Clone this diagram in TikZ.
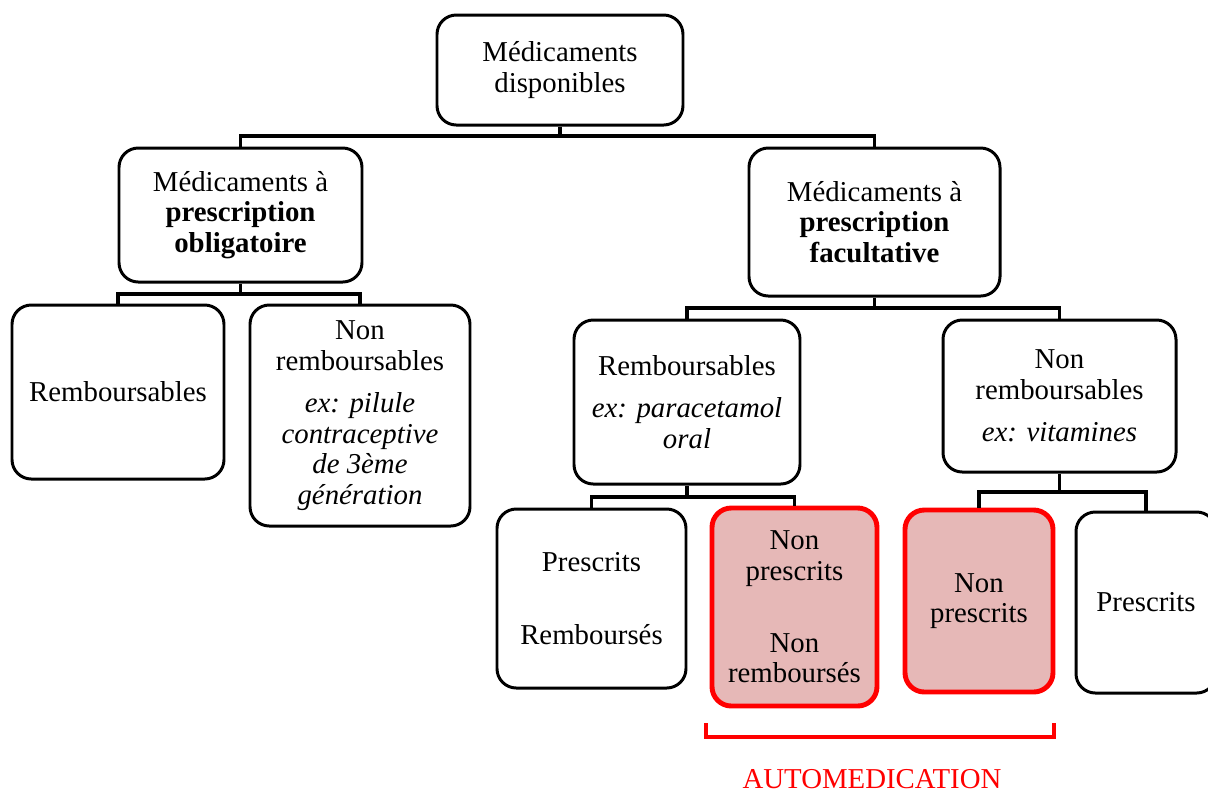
\documentclass[tikz,border=0pt]{standalone}
\usepackage{fontspec}
\setmainfont{Liberation Serif}
\definecolor{autofill}{HTML}{E6B8B7}
\definecolor{autored}{HTML}{FF0000}
\tikzset{
  box/.style={draw, line width=1.7pt, rounded corners=11pt, align=center,
    inner sep=0pt, font=\fontsize{16.4}{17.4}\selectfont},
  autobox/.style={box, draw=autored, fill=autofill, line width=2.8pt},
  sz/.style 2 args={minimum width=#1*0.02cm, minimum height=#2*0.02cm},
  link/.style={line width=2pt},
}

\begin{document}
\begin{tikzpicture}[x=0.02cm, y=-0.02cm]
  \useasboundingbox (0,0) rectangle (1208,796);
  \clip (0,0) rectangle (1208,796);

  \node[box, sz={246}{110}] (top) at (560,70) {Médicaments\\disponibles};

  \node[box, sz={243}{134}] (oblig) at (240.5,215)
    {Médicaments à\\\textbf{prescription}\\\textbf{obligatoire}};
  \node[box, sz={251}{148}] (facult) at (874.5,222)
    {Médicaments à\\\textbf{prescription}\\\textbf{facultative}};

  \node[box, sz={212}{174}] (oblR) at (118,392) {Remboursables};
  \node[box, sz={220}{221}] (oblN) at (360,415.5)
    {Non\\remboursables\\[6.8pt]\textit{ex: pilule}\\\textit{contraceptive}\\\textit{de 3ème}\\\textit{génération}};

  \node[box, sz={226}{164}] (facR) at (687,402)
    {Remboursables\\[6.8pt]\textit{ex: paracetamol}\\\textit{oral}};
  \node[box, sz={233}{152}] (facN) at (1059.5,396)
    {Non\\remboursables\\[6.8pt]\textit{ex: vitamines}};

  \node[box, sz={189}{179}] (presR) at (591.5,598.5) {Prescrits\\[24pt]Remboursés};
  \node[autobox, sz={165}{198}] (npnr) at (794.5,607)
    {Non\\prescrits\\[23.5pt]Non\\remboursés};
  \node[autobox, sz={148}{182}] (np) at (979,601) {Non\\prescrits};
  \node[box, sz={140}{181}] (pres) at (1146,602.5) {Prescrits};

  \draw[link] (top.south) -- (top.south |- 0,136) coordinate (b0);
  \draw[link] (oblig.north) |- (b0) -| (facult.north);

  \draw[link] (oblig.south) -- (oblig.south |- 0,294) coordinate (b1);
  \draw[link] (oblR.north) |- (b1) -| (oblN.north);

  \draw[link] (facult.south) -- (facult.south |- 0,308) coordinate (b2);
  \draw[link] (facR.north) |- (b2) -| (facN.north);

  \draw[link] (facR.south) -- (facR.south |- 0,497) coordinate (b3);
  \draw[link] (presR.north) |- (b3) -| (npnr.north);

  \draw[link] (facN.south) -- (facN.south |- 0,492) coordinate (b4);
  \draw[link] (np.north) |- (b4) -| (pres.north);

  \coordinate (bl) at (706,723);
  \coordinate (br) at (1054,723);
  \draw[autored, line width=1.8pt] (bl) |- (0,737 -| br) -- (br);

  \node[text=autored, font=\fontsize{16.4}{17.4}\selectfont] (auto) at (872,779) {AUTOMEDICATION};
\end{tikzpicture}
\end{document}
